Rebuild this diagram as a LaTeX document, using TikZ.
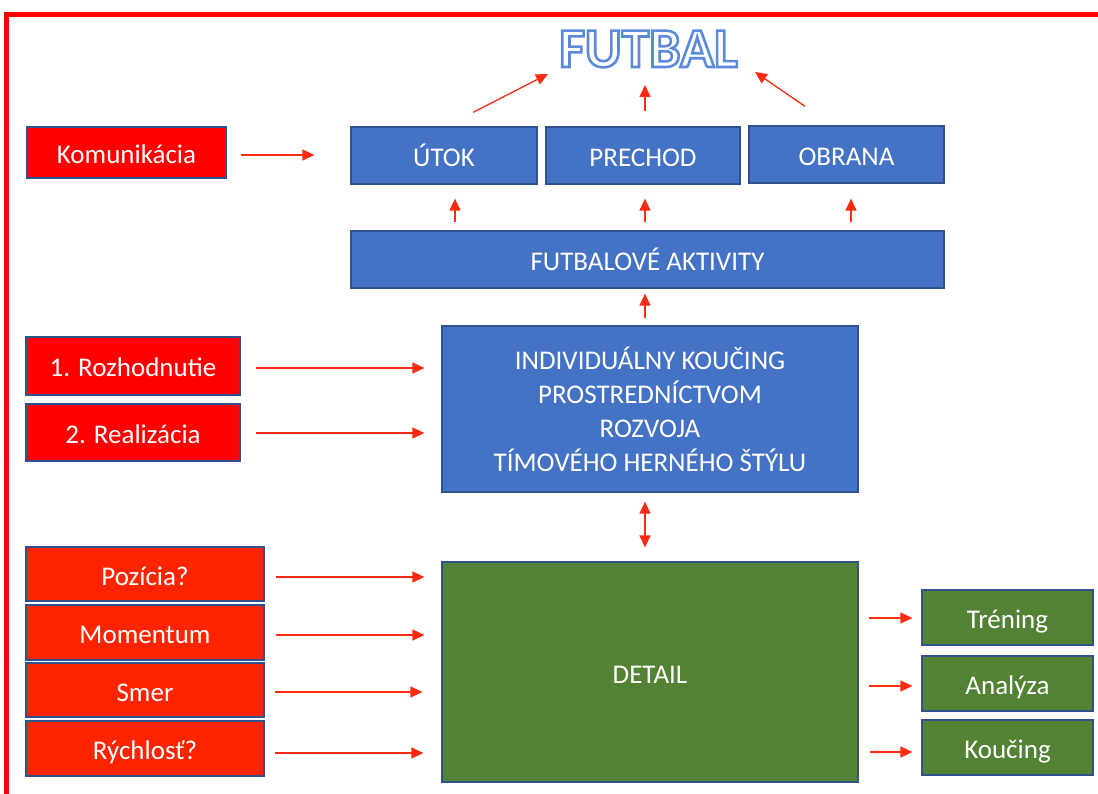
\documentclass[tikz,border=0pt]{standalone}
\usepackage{fontspec}
\setmainfont{Carlito}
\usetikzlibrary{arrows.meta,calc}

\definecolor{boxblue}{HTML}{4472C4}
\definecolor{boxedge}{HTML}{2F528F}
\definecolor{boxred}{HTML}{FF0000}
\definecolor{boxorange}{HTML}{FF2400}
\definecolor{boxgreen}{HTML}{548235}
\definecolor{arrred}{HTML}{FF2A10}
\definecolor{frame}{HTML}{FF0000}

% white letters stroked with a blue outline (PDF text render mode 2)
\newcommand\outlineword[1]{%
  {\color{white}\special{pdf:literal direct 2 Tr 2.6 w 0.36 0.54 0.86 RG}#1\special{pdf:literal direct 0 Tr}}}

\tikzset{
  card/.style={draw=boxedge, line width=1.2pt, text=white, inner sep=0pt,
    font=\fontsize{27}{31}\selectfont},
  oneline/.style={text height=23pt, text depth=1pt},
  bluecard/.style={card, fill=boxblue},
  redcard/.style={card, oneline, fill=boxred},
  orangecard/.style={card, oneline, fill=boxorange},
  greencard/.style={card, oneline, fill=boxgreen},
  arr/.style={draw=arrred, line width=1.3pt, -{Triangle[length=12pt,width=11pt]}},
  dblarr/.style={draw=arrred, line width=1.3pt, {Triangle[length=12pt,width=11pt]}-{Triangle[length=12pt,width=11pt]}},
}

\begin{document}
\begin{tikzpicture}[x=1pt,y=-1pt]
\useasboundingbox (0,0) rectangle (1098,794);

% outer frame
\draw[frame, line width=5pt] (6,794) -- (6,15) -- (1098,15);

% title
\node[anchor=base, inner sep=0pt, font=\fontsize{56}{60}\selectfont\bfseries] (title) at (648.5,67) {\outlineword{FUTBAL}};

% top row
\node[redcard, minimum width=199pt, minimum height=51pt] (kom) at (126.5,152.5) {Komunikácia};
\node[bluecard, oneline, minimum width=186pt, minimum height=57pt] (utok) at (444,155.5) {ÚTOK};
\node[bluecard, oneline, minimum width=194pt, minimum height=57pt] (prechod) at (643,155.5) {PRECHOD};
\node[bluecard, oneline, minimum width=195pt, minimum height=57pt] (obrana) at (846.5,154.5) {OBRANA};
\node[bluecard, oneline, minimum width=593pt, minimum height=57pt] (akt) at (647.5,259.5) {FUTBALOVÉ AKTIVITY};

% middle block
\node[bluecard, minimum width=416pt, minimum height=166pt, align=center,
      font=\fontsize{27}{34}\selectfont] (ind) at (650,409)
  {INDIVIDUÁLNY KOUČING\\PROSTREDNÍCTVOM\\ROZVOJA\\TÍMOVÉHO HERNÉHO ŠTÝLU};
\node[redcard, minimum width=214pt, minimum height=58pt] (roz) at (133,366) {1. Rozhodnutie};
\node[redcard, minimum width=214pt, minimum height=57pt] (real) at (133,432.5) {2. Realizácia};

% bottom block
\node[orangecard, minimum width=238pt, minimum height=54pt] (poz) at (145,574) {Pozícia?};
\node[orangecard, minimum width=238pt, minimum height=55pt] (mom) at (145,632.5) {Momentum};
\node[orangecard, minimum width=238pt, minimum height=54pt] (smer) at (145,690) {Smer};
\node[orangecard, minimum width=238pt, minimum height=55pt] (rych) at (145,748.5) {Rýchlosť?};
\node[greencard, minimum width=416pt, minimum height=220pt] (detail) at (650,672) {DETAIL};
\node[greencard, minimum width=171pt, minimum height=55pt] (tren) at (1007.5,617.5) {Tréning};
\node[greencard, minimum width=171pt, minimum height=55pt] (anal) at (1007.5,683.5) {Analýza};
\node[greencard, minimum width=171pt, minimum height=55pt] (kouc) at (1007.5,747.5) {Koučing};

% arrows to the title
\draw[arr] ($(utok.north)+(29,-14)$) -- ($(title.base)+(-100.5,7)$);
\draw[arr] ($(prechod.north)+(2,-15)$) -- ($(title.base)+(-3.5,18)$);
\draw[arr] ($(obrana.north)+(-41.5,-19)$) -- ($(title.base)+(106.5,5)$);

% communication
\draw[arr] ($(kom.east)+(14,2.5)$) -- ($(kom.east -| utok.west)+(-36,2.5)$);

% activities up to the three phases
\draw[arr] ($(akt.north -| utok.south)+(11,-8)$) -- ($(utok.south)+(11,14)$);
\draw[arr] ($(akt.north -| prechod.south)+(2,-8)$) -- ($(prechod.south)+(2,14)$);
\draw[arr] ($(akt.north -| obrana.south)+(4.5,-8)$) -- ($(obrana.south)+(4.5,15)$);
\draw[arr] ($(ind.north)+(-5,-7)$) -- ($(akt.south)+(-2.5,5)$);

% decision and execution
\draw[arr] ($(roz.east)+(15,2)$) -- ($(roz.east -| ind.west)+(-17,2)$);
\draw[arr] ($(real.east)+(15,0.5)$) -- ($(real.east -| ind.west)+(-17,0.5)$);

% coaching <-> detail
\draw[dblarr] ($(ind.south)+(-5,9)$) -- ($(detail.north)+(-5,-14)$);

% inputs to detail
\draw[arr] ($(poz.east)+(11,3)$) -- ($(poz.east -| detail.west)+(-17,3)$);
\draw[arr] ($(mom.east)+(11,2.5)$) -- ($(mom.east -| detail.west)+(-17,2.5)$);
\draw[arr] ($(smer.east)+(10,2)$) -- ($(smer.east -| detail.west)+(-19,2)$);
\draw[arr] ($(rych.east)+(10,4.5)$) -- ($(rych.east -| detail.west)+(-18,4.5)$);

% outputs of detail
\draw[arr] ($(detail.east |- tren.west)+(10,0.5)$) -- ($(tren.west)+(-9,0.5)$);
\draw[arr] ($(detail.east |- anal.west)+(10,2.5)$) -- ($(anal.west)+(-9,2.5)$);
\draw[arr] ($(detail.east |- kouc.west)+(11,4.5)$) -- ($(kouc.west)+(-9,4.5)$);
\end{tikzpicture}
\end{document}
